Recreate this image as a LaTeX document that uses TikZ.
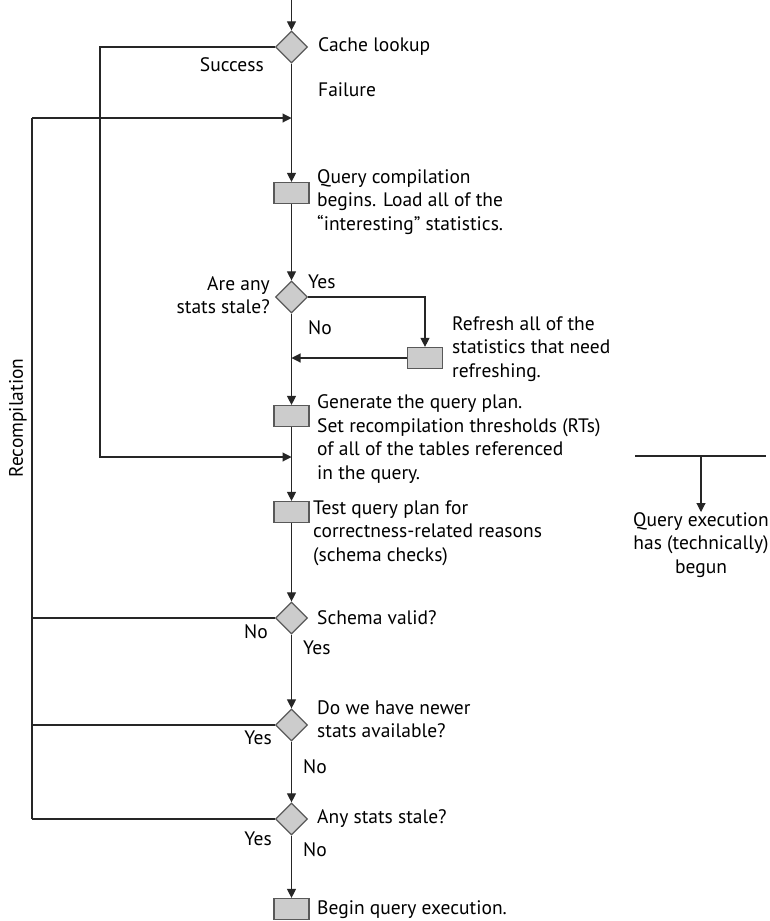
\documentclass[tikz,border=0pt]{standalone}
\usepackage{fontspec}
\setmainfont{PT Sans}
\usetikzlibrary{shapes.geometric,arrows.meta}

\begin{document}
\begin{tikzpicture}[x=1pt,y=-1pt,
    line/.style={draw=black!85, line width=1.1pt},
    arr/.style={line, -{Triangle[width=9pt,length=9pt]}},
    decision/.style={diamond, draw=black!65, fill=black!20, line width=1.2pt,
        minimum width=32pt, minimum height=32pt, inner sep=0pt},
    stepbox/.style={rectangle, draw=black!65, fill=black!20, line width=1.2pt,
        minimum width=35pt, minimum height=21pt, inner sep=0pt},
    txt/.style={inner sep=0pt, font=\fontsize{19.5}{23.5}\selectfont, align=left, anchor=west},
    rtxt/.style={txt, align=right, anchor=east}]
    \useasboundingbox (0,0) rectangle (770,921);

    % Steps and decisions on the main line
    \node[decision] (cache) at (291.5,47) {};
    \node[stepbox] (compile) at (291.5,193) {};
    \node[decision] (stale) at (291.5,297) {};
    \node[stepbox] (refresh) at (425,358) {};
    \node[stepbox] (plan) at (291.5,416) {};
    \node[stepbox] (test) at (291.5,512) {};
    \node[decision] (schema) at (291.5,618) {};
    \node[decision] (newer) at (291.5,725) {};
    \node[decision] (stale2) at (291.5,819) {};
    \node[stepbox] (exec) at (291.5,909) {};

    % Texts beside the steps
    \node[txt] (cachetxt) at (318,47) {Cache lookup};
    \node[txt] (compiletxt) at (317,202) {Query compilation\\begins. Load all of the\\``interesting'' statistics.};
    \node[rtxt] (staletxt) at (270,295) {Are any\\stats stale?};
    \node[txt] (refreshtxt) at (452,349) {Refresh all of the\\statistics that need\\refreshing.};
    \node[txt] (plantxt) at (317,439) {Generate the query plan.\\Set recompilation thresholds (RTs)\\of all of the tables referenced\\in the query.};
    \node[txt] (testtxt) at (313,533) {Test query plan for\\correctness-related reasons\\(schema checks)};
    \node[txt] (schematxt) at (317,618) {Schema valid?};
    \node[txt] (newertxt) at (317,719) {Do we have newer\\stats available?};
    \node[txt] (stale2txt) at (317,819) {Any stats stale?};
    \node[txt] (exectxt) at (317,910) {Begin query execution.};

    % Branch labels
    \node[rtxt] (success) at (264,65) {Success};
    \node[txt] (failure) at (318,90) {Failure};
    \node[txt] (staleyes) at (308,282) {Yes};
    \node[txt] (staleno) at (308,328) {No};
    \node[rtxt] (schemano) at (268,632) {No};
    \node[txt] (schemayes) at (303,648) {Yes};
    \node[rtxt] (neweryes) at (272,738) {Yes};
    \node[txt] (newerno) at (303,767) {No};
    \node[rtxt] (stale2yes) at (272,839) {Yes};
    \node[txt] (stale2no) at (303,850) {No};
    \node[txt, rotate=90, anchor=center] (recomp) at (18,418) {Recompilation};

    % Loop corners
    \coordinate (top) at (291.5,0);
    \coordinate (rc) at (32,118);
    \coordinate (sc) at (100,457);

    % Main line
    \draw[arr] (top) -- (cache.north);
    \foreach \a/\b in {cache/compile, compile/stale, stale/plan, plan/test,
        test/schema, schema/newer, newer/stale2, stale2/exec}
        \draw[arr] (\a.south) -- (\b.north);

    % Cache hit skips compilation
    \draw[arr] (cache.west) -| (sc) -- (sc -| plan);

    % Refresh of stale statistics
    \draw[arr] (stale.east) -| (refresh.north);
    \draw[arr] (refresh.west) -- (refresh.west -| plan);

    % Recompilation loop
    \foreach \n in {schema, newer, stale2}
        \draw[line] (\n.west) -- (\n.west -| rc);
    \draw[line] (stale2.west -| rc) -- (rc);
    \draw[arr] (rc) -- (rc -| compile);

    % Start of execution
    \coordinate (ql) at (635,456);
    \coordinate (qr) at (766,456);
    \node[txt, align=center, anchor=north] (qexec) at (701,512) {Query execution\\has (technically)\\begun};
    \draw[line] (ql) -- (qr);
    \draw[arr] (ql -| qexec) -- (qexec.north);
\end{tikzpicture}
\end{document}
